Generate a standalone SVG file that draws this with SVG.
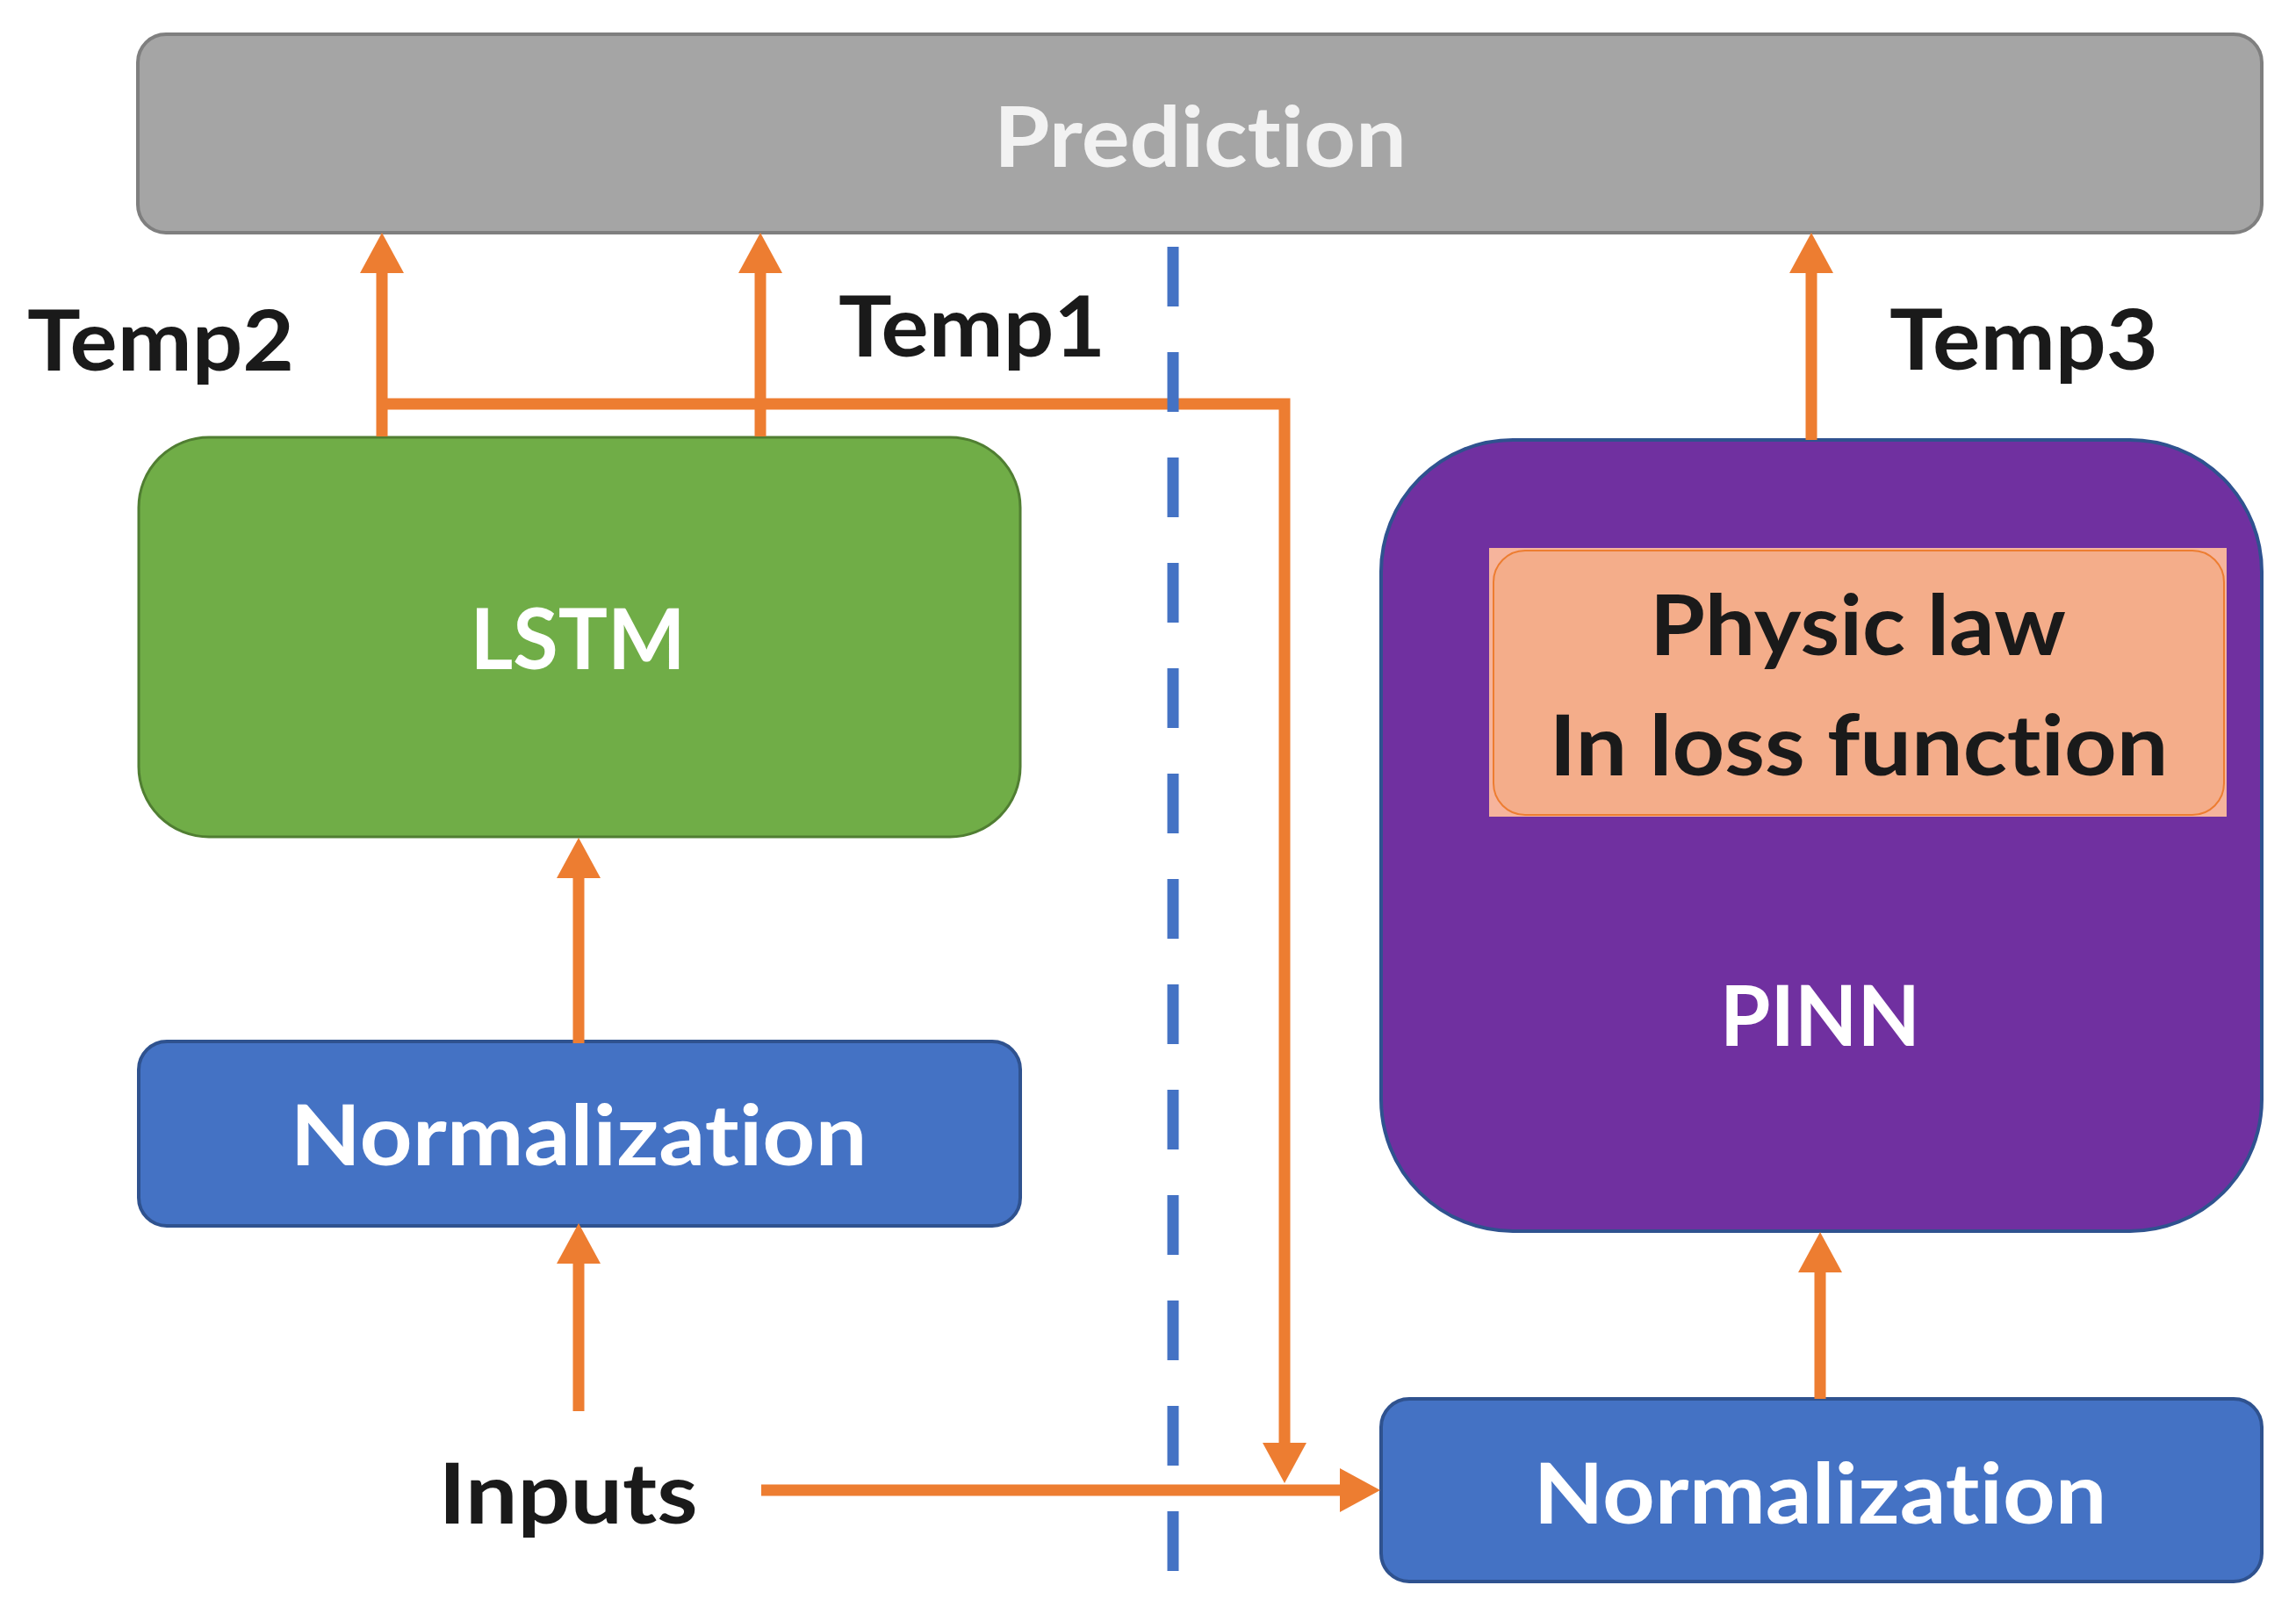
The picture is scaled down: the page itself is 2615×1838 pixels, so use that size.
<svg xmlns="http://www.w3.org/2000/svg" width="2615" height="1838" viewBox="0 0 2615 1838">
<style>
.t{font-family:Lato,"Open Sans","Liberation Sans",sans-serif;font-weight:bold;font-size:95px;text-anchor:middle;font-variant-ligatures:none;font-feature-settings:"liga" 0,"clig" 0}
.w{fill:#ffffff}
.k{fill:#1a1a1a}
.c{fill:none;stroke:#ed7d31;stroke-width:13}
</style>
<defs>
<marker id="ah" markerUnits="userSpaceOnUse" markerWidth="48" markerHeight="52" refX="1" refY="25" orient="auto">
<path d="M0,0 L46,25 L0,50 z" fill="#ed7d31"/>
</marker>
</defs>
<rect width="2615" height="1838" fill="#ffffff"/>
<g id="prediction">
<rect x="157" y="39" width="2419" height="226" rx="32" fill="#a5a5a5" stroke="#7f7f7f" stroke-width="4"/>
<text class="t" x="1367" y="190" fill="#f2f2f2" font-size="97" textLength="470" lengthAdjust="spacingAndGlyphs">Prediction</text>
</g>
<g id="lstm">
<rect x="158" y="498" width="1004" height="455" rx="80" fill="#70ad47" stroke="#507e32" stroke-width="3"/>
<text class="t w" x="658" y="762" textLength="245" lengthAdjust="spacingAndGlyphs">LSTM</text>
</g>
<g id="norm-left">
<rect x="158" y="1186" width="1004" height="210" rx="32" fill="#4472c4" stroke="#2f528f" stroke-width="4"/>
<text class="t w" x="659" y="1327" textLength="657" lengthAdjust="spacingAndGlyphs">Normalization</text>
</g>
<g id="pinn">
<rect x="1573" y="501" width="1003" height="901" rx="150" fill="#7030a0" stroke="#2f528f" stroke-width="4"/>
<text class="t w" x="2073" y="1191" textLength="228" lengthAdjust="spacingAndGlyphs">PINN</text>
</g>
<g id="physic-law">
<rect x="1696" y="624" width="840" height="306" fill="#f6b49c"/>
<rect x="1701" y="627" width="832" height="301" rx="36" fill="#f4ad8a" stroke="#ed7d31" stroke-width="2"/>
<text class="t k" x="2116" y="746" textLength="474" lengthAdjust="spacingAndGlyphs">Physic law</text>
<text class="t k" x="2117" y="883" textLength="705" lengthAdjust="spacingAndGlyphs">In loss function</text>
</g>
<g id="norm-right">
<rect x="1573" y="1593" width="1003" height="208" rx="32" fill="#4472c4" stroke="#2f528f" stroke-width="4"/>
<text class="t w" x="2073" y="1735" textLength="653" lengthAdjust="spacingAndGlyphs">Normalization</text>
</g>
<g id="labels">
<text class="t k" x="183" y="422" textLength="304" lengthAdjust="spacingAndGlyphs">Temp2</text>
<text class="t k" x="1107" y="406" textLength="304" lengthAdjust="spacingAndGlyphs">Temp1</text>
<text class="t k" x="2305" y="421" textLength="306" lengthAdjust="spacingAndGlyphs">Temp3</text>
<text class="t k" x="647" y="1735" textLength="295" lengthAdjust="spacingAndGlyphs">Inputs</text>
</g>
<g id="connectors">
<path class="c" d="M435,497 L435,310" marker-end="url(#ah)"/>
<path class="c" d="M866,497 L866,310" marker-end="url(#ah)"/>
<path class="c" d="M435,460 L1463,460 L1463,1644" marker-end="url(#ah)"/>
<path class="c" d="M2063,501 L2063,310" marker-end="url(#ah)"/>
<path class="c" d="M659,1188 L659,999" marker-end="url(#ah)"/>
<path class="c" d="M659,1607 L659,1438" marker-end="url(#ah)"/>
<path class="c" d="M867,1697 L1527,1697" stroke-width="15" marker-end="url(#ah)"/>
<path class="c" d="M2073,1593 L2073,1448" marker-end="url(#ah)"/>
<path d="M1336,281 L1336,1798" fill="none" stroke="#4472c4" stroke-width="13" stroke-dasharray="68 52"/>
</g>
</svg>
